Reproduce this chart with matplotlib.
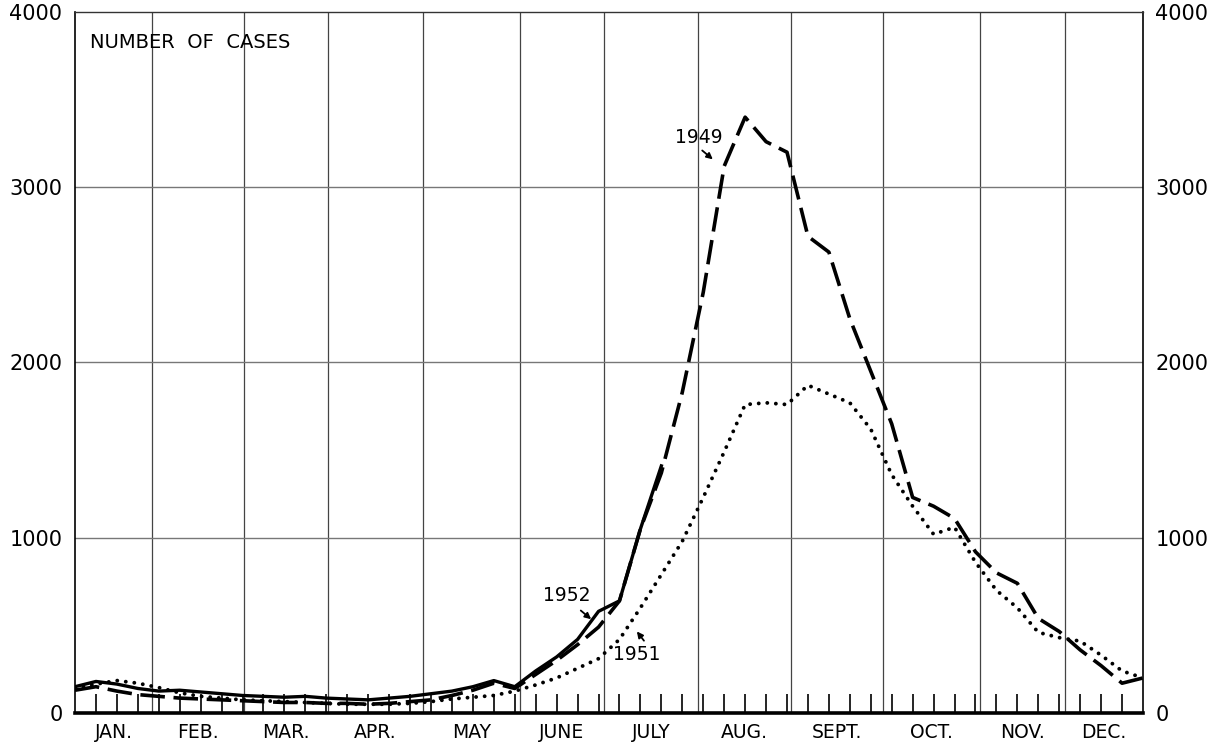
import numpy as np
import matplotlib
matplotlib.use("Agg")
import matplotlib.pyplot as plt

plt.rcParams.update({
    'font.family': 'DejaVu Sans',
    'font.size': 14,
})

# weekly cases, week index 0..51
cases_1949 = [130, 150, 125, 105, 95, 85, 80, 75, 70, 65, 60, 60, 55, 55, 50, 55,
              65, 75, 100, 130, 170, 140, 220, 300, 390, 490, 640, 1050, 1370, 1830,
              2400, 3120, 3400, 3260, 3200, 2720, 2630, 2250, 1950, 1650, 1230, 1180,
              1110, 920, 800, 740, 540, 465, 360, 270, 170, 200]
cases_1951 = [140, 165, 185, 170, 145, 115, 95, 85, 75, 70, 65, 60, 55, 50, 50, 50,
              55, 65, 80, 90, 100, 125, 160, 200, 255, 310, 420, 600, 790, 980,
              1230, 1490, 1760, 1770, 1760, 1870, 1820, 1770, 1620, 1360, 1180, 1020,
              1060, 860, 700, 600, 460, 430, 410, 330, 240, 200]
cases_1952 = [150, 180, 165, 140, 125, 130, 120, 110, 100, 95, 90, 95, 85, 80, 75, 85,
              95, 110, 125, 150, 185, 150, 240, 320, 420, 580, 640, 1050, 1410]

months = ["JAN.", "FEB.", "MAR.", "APR.", "MAY", "JUNE", "JULY", "AUG.", "SEPT.",
          "OCT.", "NOV.", "DEC."]
# month boundaries in week units (as drawn on the original sheet)
month_edges = [0, 3.68, 8.07, 12.08, 16.62, 21.25, 25.26, 29.75, 34.19, 38.59,
               43.22, 47.28, 51]
y_ticks = [0, 1000, 2000, 3000, 4000]

fig = plt.figure(figsize=(12.26, 7.42), dpi=100)
ax = fig.add_axes([75 / 1226, 29 / 742, 1068 / 1226, 701 / 742])

# grid
for e in month_edges[1:-1]:
    ax.axvline(e, color="#444444", lw=0.9, zorder=1)
for v in y_ticks[1:-1]:
    ax.axhline(v, color="#777777", lw=1.0, zorder=1)

w49 = np.arange(len(cases_1949))
w51 = np.arange(len(cases_1951))
w52 = np.arange(len(cases_1952))

ax.plot(w49, cases_1949, color="black", lw=2.6, linestyle=(0, (6.8, 2.4)),
        dash_capstyle="butt", zorder=3)
ax.plot(w51, cases_1951, color="black", lw=2.8, linestyle=(0, (0.01, 2.2)),
        dash_capstyle="round", zorder=3)
ax.plot(w52, cases_1952, color="black", lw=2.4, solid_joinstyle="round", zorder=4)

# labels with arrows
arrow = dict(arrowstyle="-|>", color="black", lw=1.3, mutation_scale=9)
ax.text(29.8, 3286, "1949", ha="center", va="center", fontsize=13.5)
ax.annotate("", xy=(30.56, 3149), xytext=(29.85, 3220), arrowprops=arrow)
ax.text(23.5, 673, "1952", ha="center", va="center", fontsize=13.5)
ax.annotate("", xy=(24.75, 525), xytext=(24.05, 595), arrowprops=arrow)
ax.text(26.84, 331, "1951", ha="center", va="center", fontsize=13.5)
ax.annotate("", xy=(26.75, 478), xytext=(27.25, 400), arrowprops=arrow)

ax.text(0.7, 3880, "NUMBER  OF  CASES", ha="left", va="top", fontsize=14)

ax.set_xlim(0, 51)
ax.set_ylim(0, 4000)

# month names centred between boundaries, weekly ticks on the base line
centers = [(a + b) / 2 for a, b in zip(month_edges[:-1], month_edges[1:])]
ax.set_xticks(centers)
ax.set_xticklabels(months, fontsize=13.5)
ax.tick_params(axis="x", which="major", length=0, pad=7)
ax.set_xticks(np.arange(1, 51), minor=True)
ax.tick_params(axis="x", which="minor", direction="in", length=14, width=1.2,
               color="black")

ax.set_yticks(y_ticks)
ax.set_yticklabels([str(v) for v in y_ticks], fontsize=15)
ax.tick_params(axis="y", length=0, pad=9, labelright=True, labelleft=True)

ax.spines["bottom"].set_linewidth(2.6)
ax.spines["left"].set_linewidth(1.2)
ax.spines["right"].set_linewidth(1.2)
ax.spines["top"].set_linewidth(1.0)
ax.spines["top"].set_color("#333333")

fig.savefig("out.png", dpi=100)
